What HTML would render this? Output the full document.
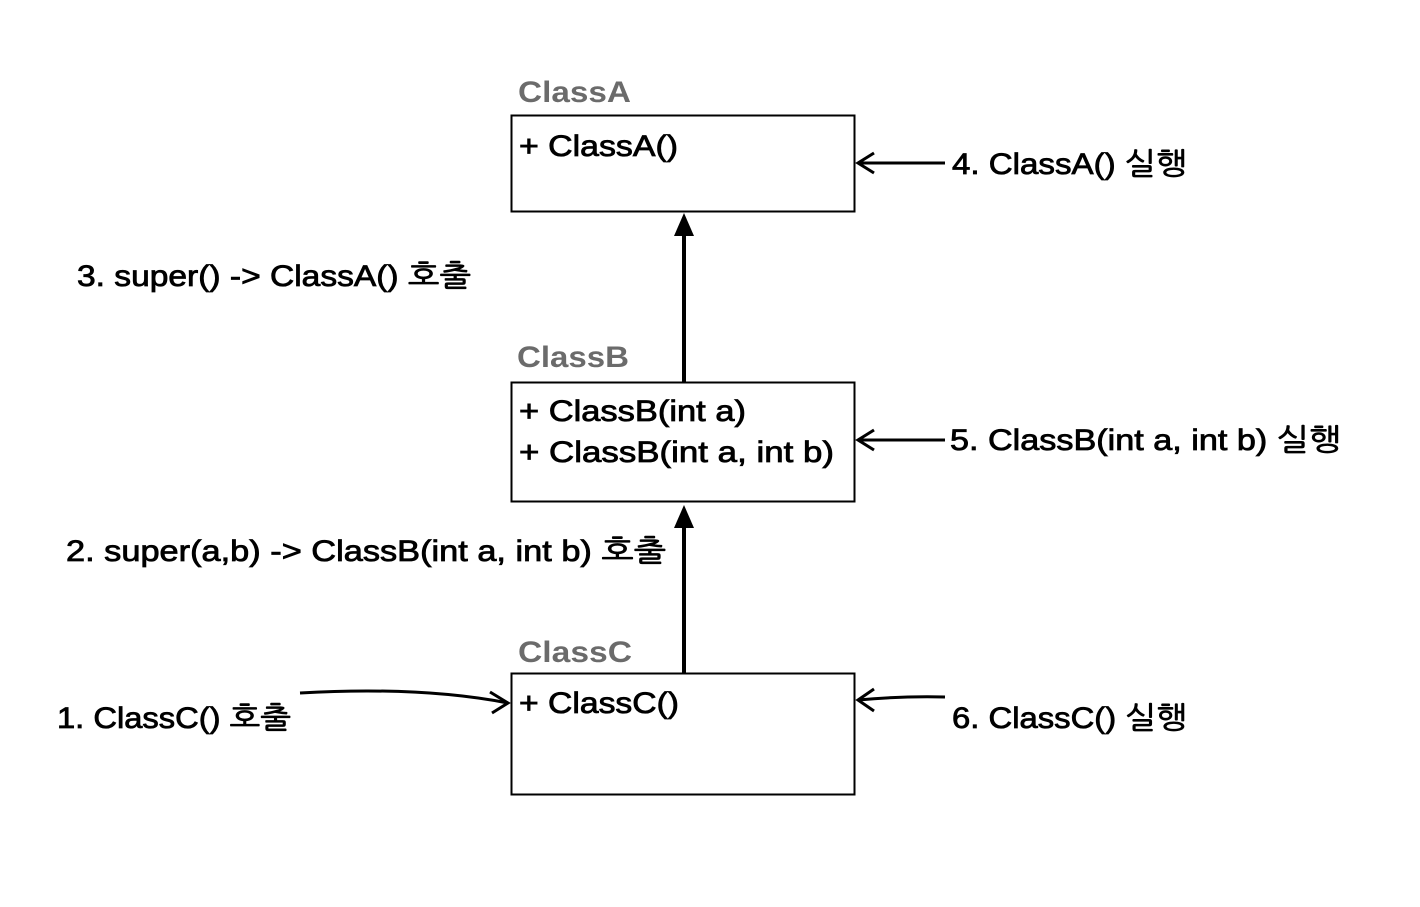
<!DOCTYPE html>
<html><head><meta charset="utf-8"><style>html,body{margin:0;padding:0;background:#fff}</style></head>
<body>
<svg width="1420" height="902" viewBox="0 0 1420 902" xmlns="http://www.w3.org/2000/svg" font-family="'Liberation Sans','NanumGothic','Noto Sans CJK KR',sans-serif" font-size="30">
<rect width="1420" height="902" fill="#fff"/>
<g fill="#fff" stroke="#000" stroke-width="2">
<rect x="511.5" y="115.5" width="343" height="96"/>
<rect x="511.5" y="382.5" width="343" height="119"/>
<rect x="511.5" y="673.5" width="343" height="121"/>
</g>
<g stroke="#000" stroke-width="4" fill="none">
<line x1="684" y1="382" x2="684" y2="232"/>
<line x1="684" y1="673" x2="684" y2="525"/>
<line x1="945" y1="163" x2="858" y2="163" stroke-width="3"/>
<polyline points="874,153 858,163 874,173" stroke-width="3"/>
<line x1="945" y1="440" x2="858" y2="440" stroke-width="3"/>
<polyline points="874,430 858,440 874,450" stroke-width="3"/>
<path d="M945,697 Q900,696 858,700" stroke-width="3"/>
<polyline points="874,689 858,700 874,711" stroke-width="3"/>
<path d="M300,693 Q420,686 508,703" stroke-width="3"/>
<polyline points="490,692 508,703 492,713" stroke-width="3"/>
</g>
<polygon points="684,213 674,236 694,236" fill="#000"/>
<polygon points="684,505 674,528 694,528" fill="#000"/>
<g font-weight="bold" fill="#6b6b6b">
<text x="518" y="102" textLength="113" lengthAdjust="spacingAndGlyphs">ClassA</text>
<text x="517" y="367" textLength="112" lengthAdjust="spacingAndGlyphs">ClassB</text>
<text x="518" y="662" textLength="114" lengthAdjust="spacingAndGlyphs">ClassC</text>
</g>
<g fill="#000" stroke="#000" stroke-width="0.8">
<text x="519" y="156" textLength="159" lengthAdjust="spacingAndGlyphs">+ ClassA()</text>
<text x="519" y="421" textLength="227" lengthAdjust="spacingAndGlyphs">+ ClassB(int a)</text>
<text x="519" y="462" textLength="315" lengthAdjust="spacingAndGlyphs">+ ClassB(int a, int b)</text>
<text x="519" y="713" textLength="160" lengthAdjust="spacingAndGlyphs">+ ClassC()</text>
<text x="952" y="174" textLength="235" lengthAdjust="spacingAndGlyphs">4. ClassA() 실행</text>
<text x="950" y="450" textLength="391" lengthAdjust="spacingAndGlyphs">5. ClassB(int a, int b) 실행</text>
<text x="952" y="728" textLength="235" lengthAdjust="spacingAndGlyphs">6. ClassC() 실행</text>
<text x="77" y="286" textLength="394" lengthAdjust="spacingAndGlyphs">3. super() -&gt; ClassA() 호출</text>
<text x="66" y="561" textLength="600" lengthAdjust="spacingAndGlyphs">2. super(a,b) -&gt; ClassB(int a, int b) 호출</text>
<text x="57" y="728" textLength="234" lengthAdjust="spacingAndGlyphs">1. ClassC() 호출</text>
</g>
</svg>
</body></html>
